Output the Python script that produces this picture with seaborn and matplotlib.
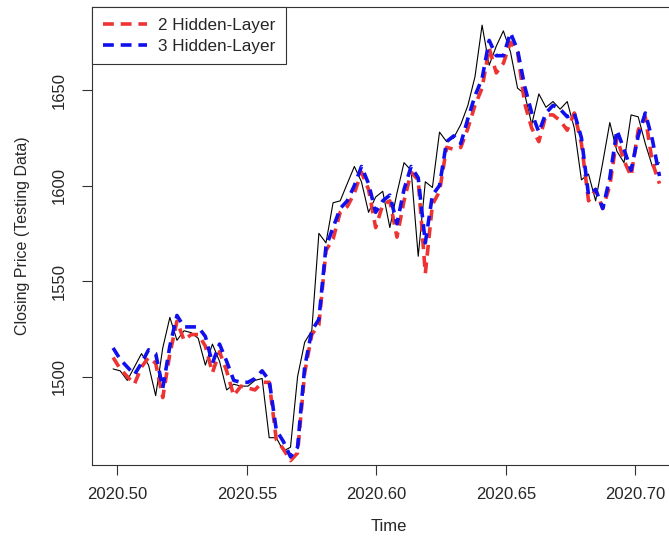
import numpy as np
import pandas as pd
import matplotlib
matplotlib.use("Agg")
import matplotlib.pyplot as plt
import seaborn as sns

# ---- data ----
start_time = 2020.4983
step = 1 / 365

actual = [1504, 1503, 1498, 1505, 1512, 1506, 1490, 1515, 1531, 1519,
          1524, 1523, 1520, 1506, 1517, 1508, 1493, 1496, 1495, 1495,
          1498, 1499, 1468, 1468, 1461, 1463, 1500, 1518, 1524, 1575,
          1570, 1591, 1592, 1601, 1610, 1602, 1586, 1594, 1597, 1578,
          1596, 1612, 1608, 1563, 1602, 1599, 1628, 1623, 1625, 1632,
          1642, 1657, 1684, 1663, 1673, 1681, 1670, 1651, 1648, 1632,
          1648, 1641, 1644, 1640, 1644, 1630, 1603, 1606, 1592, 1612,
          1633, 1618, 1612, 1637, 1636, 1622, 1610, 1612]

pred_2hl = [1510, 1504, 1500, 1496, 1505, 1510, 1507, 1489, 1512, 1529,
            1519, 1522, 1522, 1516, 1502, 1513, 1503, 1490, 1495, 1494,
            1493, 1497, 1497, 1467, 1462, 1456, 1460, 1502, 1522, 1527,
            1566, 1572, 1586, 1589, 1596, 1607, 1598, 1578, 1590, 1592,
            1573, 1592, 1607, 1603, 1554, 1590, 1597, 1620, 1619, 1620,
            1630, 1642, 1651, 1672, 1659, 1664, 1675, 1670, 1643, 1630,
            1623, 1637, 1637, 1634, 1629, 1638, 1622, 1592, 1598, 1588,
            1600, 1625, 1613, 1605, 1629, 1636, 1612, 1601]

pred_3hl = [1515, 1509, 1505, 1501, 1507, 1514, 1512, 1494, 1516, 1532,
            1526, 1526, 1526, 1521, 1507, 1517, 1508, 1498, 1497, 1497,
            1499, 1503, 1498, 1472, 1466, 1458, 1463, 1505, 1524, 1530,
            1568, 1578, 1588, 1592, 1600, 1610, 1601, 1586, 1592, 1595,
            1580, 1598, 1610, 1604, 1570, 1595, 1600, 1623, 1626, 1622,
            1635, 1647, 1656, 1676, 1668, 1668, 1680, 1671, 1652, 1638,
            1628, 1638, 1642, 1640, 1636, 1638, 1625, 1595, 1598, 1588,
            1604, 1629, 1619, 1608, 1626, 1638, 1624, 1605]

series_labels = ["2 Hidden-Layer", "3 Hidden-Layer"]
x_ticks = [2020.50, 2020.55, 2020.60, 2020.65, 2020.70]
y_ticks = [1500, 1550, 1600, 1650]

time = start_time + step * np.arange(len(actual))
df = pd.DataFrame({"Time": time, "actual": actual,
                   "p2": pred_2hl, "p3": pred_3hl})

# ---- style ----
sns.set_style("ticks")
plt.rcParams["font.family"] = ["Liberation Sans", "DejaVu Sans"]

fig = plt.figure(figsize=(6.69, 5.37), dpi=100)
ax = fig.add_axes([92 / 669, 72 / 537, (685 - 92) / 669, 458 / 537])

dash = (0, (3.0, 1.9))
sns.lineplot(data=df, x="Time", y="actual", ax=ax, color="black",
             linewidth=0.8, estimator=None, sort=False)
sns.lineplot(data=df, x="Time", y="p2", ax=ax, color="#ee3333",
             linewidth=2.6, linestyle=dash, estimator=None,
             sort=False, label=series_labels[0])
sns.lineplot(data=df, x="Time", y="p3", ax=ax, color="#1010ee",
             linewidth=2.6, linestyle=dash, estimator=None,
             sort=False, label=series_labels[1])

px_per_year = 2590.0
ax.set_xlim(2020.50 - 25.5 / px_per_year, 2020.50 + (685 - 117.5) / px_per_year)
ax.set_ylim(1453.7, 1693.5)

fs = 12
ax.set_xticks(x_ticks)
ax.set_xticklabels([f"{t:.2f}" for t in x_ticks], fontsize=fs)
ax.set_yticks(y_ticks)
ax.set_yticklabels([str(t) for t in y_ticks], fontsize=fs,
                   rotation=90, va="center")
ax.tick_params(axis="both", direction="out", length=7, width=0.8,
               color="#333333")
ax.tick_params(axis="x", pad=9)
ax.tick_params(axis="y", pad=11)

ax.set_xlabel("Time", fontsize=fs, labelpad=12)
ax.set_ylabel("Closing Price (Testing Data)", fontsize=11.5, labelpad=16)

for s in ax.spines.values():
    s.set_visible(True)
    s.set_linewidth(0.8)
    s.set_color("#333333")

leg = ax.legend(loc="upper left", borderaxespad=0, fancybox=False,
                framealpha=1, edgecolor="#333333", fontsize=12.3,
                handlelength=2.6, borderpad=0.62, labelspacing=0.35,
                handletextpad=0.65)
leg.get_frame().set_linewidth(0.8)
leg.get_frame().set_boxstyle("square", pad=0.0)

fig.savefig("out.png", dpi=100)
